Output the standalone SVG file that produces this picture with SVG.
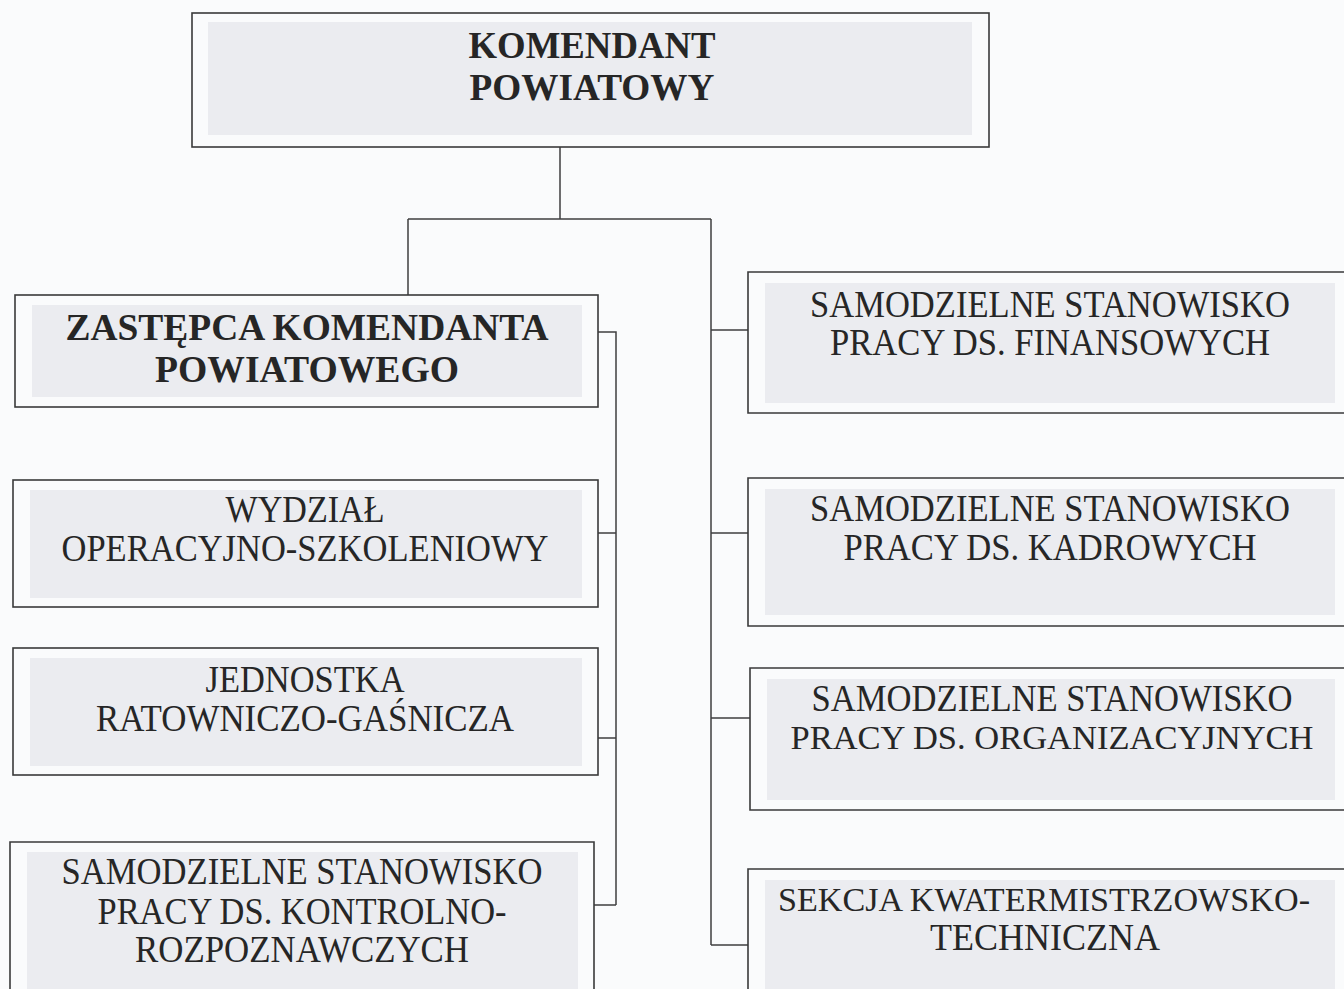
<svg xmlns="http://www.w3.org/2000/svg" width="1344" height="989" viewBox="0 0 1344 989">
<style>
.bg{fill:#fafbfc}
.box{fill:#fafbfc;stroke:#3a3a3a;stroke-width:1.6}
.fill{fill:#fafbfc}
.edge{fill:none;stroke:#3a3a3a;stroke-width:1.6}
.shade{fill:#ebecf0}
.t{font-family:"Liberation Serif","Times New Roman",serif;fill:#262626;text-anchor:middle}
.b{font-weight:bold;font-size:38px}
.r{font-size:37px}
.s{font-size:34px}
.c{fill:none;stroke:#3f3f3f;stroke-width:1.5}
</style>
<rect class="bg" x="0" y="0" width="1344" height="989"/>
<g id="connectors">
<path class="c" d="M560 147V219M408 219H711M408 219V295M711 219V945"/>
<path class="c" d="M598 332H616V905M598 533H616M598 738H616M594 905H616"/>
<path class="c" d="M711 330H748M711 533H748M711 718H750M711 945H748"/>
</g>
<g id="komendant">
<rect class="box" x="192" y="13" width="797" height="134"/>
<rect class="shade" x="208" y="22" width="764" height="113"/>
<text class="t b" x="592" y="58" textLength="247" lengthAdjust="spacingAndGlyphs">KOMENDANT</text>
<text class="t b" x="592" y="100" textLength="245" lengthAdjust="spacingAndGlyphs">POWIATOWY</text>
</g>
<g id="zastepca">
<rect class="box" x="15" y="295" width="583" height="112"/>
<rect class="shade" x="32" y="305" width="550" height="92"/>
<text class="t b" x="307" y="340" textLength="483" lengthAdjust="spacingAndGlyphs">ZASTĘPCA KOMENDANTA</text>
<text class="t b" x="307" y="382" textLength="304" lengthAdjust="spacingAndGlyphs">POWIATOWEGO</text>
</g>
<g id="wydzial">
<rect class="box" x="13" y="480" width="585" height="127"/>
<rect class="shade" x="30" y="490" width="552" height="108"/>
<text class="t r" x="305" y="522" textLength="159" lengthAdjust="spacingAndGlyphs">WYDZIAŁ</text>
<text class="t r" x="305" y="561" textLength="487" lengthAdjust="spacingAndGlyphs">OPERACYJNO-SZKOLENIOWY</text>
</g>
<g id="jednostka">
<rect class="box" x="13" y="648" width="585" height="127"/>
<rect class="shade" x="30" y="658" width="552" height="108"/>
<text class="t r" x="305" y="692" textLength="199" lengthAdjust="spacingAndGlyphs">JEDNOSTKA</text>
<text class="t r" x="305" y="731" textLength="418" lengthAdjust="spacingAndGlyphs">RATOWNICZO-GAŚNICZA</text>
</g>
<g id="kontrolno">
<rect class="fill" x="10" y="842" width="584" height="147"/>
<path class="edge" d="M10 989V842H594V989"/>
<rect class="shade" x="27" y="852" width="551" height="137"/>
<text class="t r" x="302" y="884" textLength="481" lengthAdjust="spacingAndGlyphs">SAMODZIELNE STANOWISKO</text>
<text class="t r" x="302" y="924" textLength="409" lengthAdjust="spacingAndGlyphs">PRACY DS. KONTROLNO-</text>
<text class="t r" x="302" y="962" textLength="334" lengthAdjust="spacingAndGlyphs">ROZPOZNAWCZYCH</text>
</g>
<g id="finansowych">
<rect class="fill" x="748" y="272" width="596" height="141"/>
<path class="edge" d="M1344 272H748V413H1344"/>
<rect class="shade" x="765" y="283" width="570" height="120"/>
<text class="t r" x="1050" y="317" textLength="480" lengthAdjust="spacingAndGlyphs">SAMODZIELNE STANOWISKO</text>
<text class="t r" x="1050" y="355" textLength="440" lengthAdjust="spacingAndGlyphs">PRACY DS. FINANSOWYCH</text>
</g>
<g id="kadrowych">
<rect class="fill" x="748" y="478" width="596" height="148"/>
<path class="edge" d="M1344 478H748V626H1344"/>
<rect class="shade" x="765" y="489" width="570" height="126"/>
<text class="t r" x="1050" y="521" textLength="480" lengthAdjust="spacingAndGlyphs">SAMODZIELNE STANOWISKO</text>
<text class="t r" x="1050" y="560" textLength="413" lengthAdjust="spacingAndGlyphs">PRACY DS. KADROWYCH</text>
</g>
<g id="organizacyjnych">
<rect class="fill" x="750" y="668" width="594" height="142"/>
<path class="edge" d="M1344 668H750V810H1344"/>
<rect class="shade" x="767" y="679" width="568" height="121"/>
<text class="t r" x="1052" y="711" textLength="481" lengthAdjust="spacingAndGlyphs">SAMODZIELNE STANOWISKO</text>
<text class="t s" x="1052" y="749" textLength="523" lengthAdjust="spacingAndGlyphs">PRACY DS. ORGANIZACYJNYCH</text>
</g>
<g id="sekcja">
<rect class="fill" x="748" y="869" width="596" height="120"/>
<path class="edge" d="M1344 869H748V989"/>
<rect class="shade" x="765" y="880" width="570" height="109"/>
<text class="t s" x="1044" y="911" textLength="532" lengthAdjust="spacingAndGlyphs">SEKCJA KWATERMISTRZOWSKO-</text>
<text class="t r" x="1045" y="950" textLength="230" lengthAdjust="spacingAndGlyphs">TECHNICZNA</text>
</g>
</svg>
